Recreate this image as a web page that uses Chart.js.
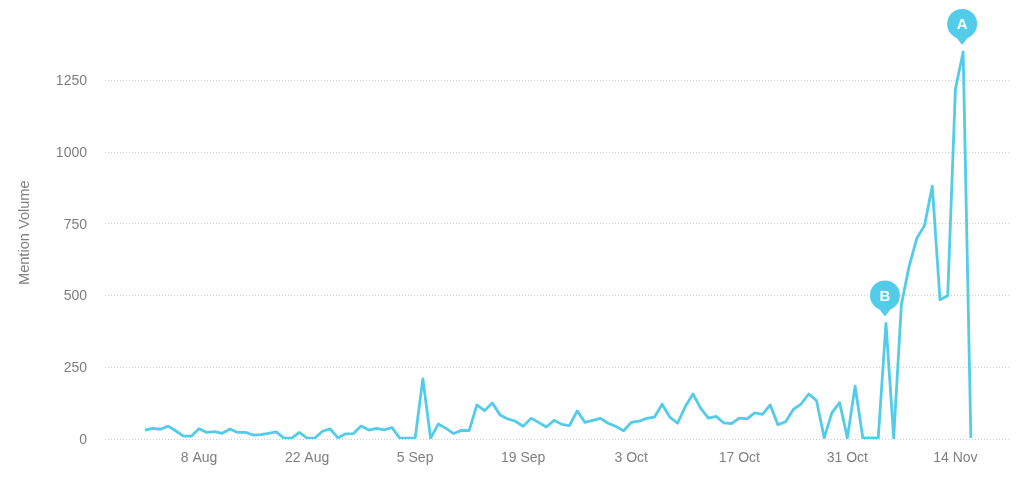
<!DOCTYPE html>
<html lang="en">
<head>
  <meta charset="UTF-8">
  <title>Mention Volume</title>
  <style>
    html, body { margin: 0; padding: 0; background: #fff; }
    #chart { display: block; }
  </style>
</head>
<body>

<canvas id="chart" width="1024" height="482"></canvas>

<script src="https://cdn.jsdelivr.net/npm/chart.js"></script>
<script>
  const dates = [
    '1 Aug','2 Aug','3 Aug','4 Aug','5 Aug','6 Aug','7 Aug','8 Aug','9 Aug','10 Aug','11 Aug','12 Aug','13 Aug','14 Aug','15 Aug','16 Aug',
    '17 Aug','18 Aug','19 Aug','20 Aug','21 Aug','22 Aug','23 Aug','24 Aug','25 Aug','26 Aug','27 Aug','28 Aug','29 Aug','30 Aug','31 Aug',
    '1 Sep','2 Sep','3 Sep','4 Sep','5 Sep','6 Sep','7 Sep','8 Sep','9 Sep','10 Sep','11 Sep','12 Sep','13 Sep','14 Sep','15 Sep',
    '16 Sep','17 Sep','18 Sep','19 Sep','20 Sep','21 Sep','22 Sep','23 Sep','24 Sep','25 Sep','26 Sep','27 Sep','28 Sep','29 Sep','30 Sep',
    '1 Oct','2 Oct','3 Oct','4 Oct','5 Oct','6 Oct','7 Oct','8 Oct','9 Oct','10 Oct','11 Oct','12 Oct','13 Oct','14 Oct','15 Oct','16 Oct',
    '17 Oct','18 Oct','19 Oct','20 Oct','21 Oct','22 Oct','23 Oct','24 Oct','25 Oct','26 Oct','27 Oct','28 Oct','29 Oct','30 Oct','31 Oct',
    '1 Nov','2 Nov','3 Nov','4 Nov','5 Nov','6 Nov','7 Nov','8 Nov','9 Nov','10 Nov','11 Nov','12 Nov','13 Nov','14 Nov','15 Nov','16 Nov'
  ];
  const mentions = [
    31, 37, 34, 45, 28, 10, 10, 36, 23, 26, 20, 35, 23, 23, 14, 15,
    20, 25, 3, 3, 23, 3, 3, 27, 35, 4, 18, 19, 45, 31, 37,
    32, 40, 3, 3, 3, 210, 3, 52, 37, 19, 30, 29, 119, 99, 126,
    84, 70, 62, 44, 72, 58, 42, 65, 51, 47, 98, 58, 65, 72, 55,
    44, 29, 58, 62, 72, 76, 121, 76, 55, 113, 157, 107, 73, 79, 56, 54,
    73, 70, 91, 86, 119, 50, 60, 103, 122, 157, 134, 4, 92, 127, 4,
    184, 4, 4, 4, 403, 4, 469, 602, 700, 745, 882, 486, 500, 1221, 1350, 4
  ];
  const xTickLabels = ['8 Aug', '22 Aug', '5 Sep', '19 Sep', '3 Oct', '17 Oct', '31 Oct', '14 Nov'];
  const yTicks = [0, 250, 500, 750, 1000, 1250];
  const yMax = 1439;
  const pins = [
    { date: '15 Nov', letter: 'A' },
    { date: '5 Nov', letter: 'B' }
  ];

  const lineColor = '#52cce8';
  const textColor = '#808080';
  const chartFont = '"Liberation Sans", Arial, sans-serif';

  // pins sit just above the point they mark
  const pinPlugin = {
    id: 'pins',
    afterDatasetsDraw(chart) {
      const c = chart.ctx;
      pins.forEach(p => {
        const i = dates.indexOf(p.date);
        const px = chart.scales.x.getPixelForValue(i) - 1;
        const py = chart.scales.y.getPixelForValue(mentions[i]);
        const tip = py - 7;
        const cy = tip - 21;
        const r = 15;
        c.save();
        c.fillStyle = lineColor;
        c.beginPath();
        c.arc(px, cy, r, 0, Math.PI * 2);
        c.fill();
        c.beginPath();
        c.moveTo(px - 7, cy + r - 3);
        c.lineTo(px, tip);
        c.lineTo(px + 7, cy + r - 3);
        c.closePath();
        c.fill();
        c.fillStyle = '#ffffff';
        c.font = 'bold 15px ' + chartFont;
        c.textAlign = 'center';
        c.textBaseline = 'middle';
        c.fillText(p.letter, px, cy + 1);
        c.restore();
      });
    }
  };

  new Chart(document.getElementById('chart').getContext('2d'), {
    type: 'line',
    data: {
      datasets: [{
        label: 'Mention Volume',
        data: mentions.map((v, i) => ({ x: i, y: v })),
        borderColor: lineColor,
        borderWidth: 2.8,
        borderJoinStyle: 'round',
        fill: false,
        tension: 0,
        pointRadius: 0
      }]
    },
    options: {
      responsive: false,
      animation: false,
      layout: { padding: { top: 14.9, right: 13 } },
      plugins: { legend: { display: false }, tooltip: { enabled: false } },
      scales: {
        x: {
          type: 'linear',
          min: -5.18,
          max: 112.2,
          afterFit(scale) { scale.height = 43; },
          afterBuildTicks(scale) {
            scale.ticks = xTickLabels.map(t => ({ value: dates.indexOf(t) }));
          },
          grid: { display: false },
          border: { display: false },
          ticks: {
            autoSkip: false,
            maxRotation: 0,
            padding: 3,
            color: textColor,
            font: { family: chartFont, size: 14 },
            callback: v => dates[v]
          }
        },
        y: {
          min: 0,
          max: yMax,
          afterFit(scale) { scale.width = 105; },
          afterBuildTicks(scale) {
            scale.ticks = yTicks.map(v => ({ value: v }));
          },
          grid: {
            color: '#cccccc',
            lineWidth: 1,
            drawTicks: false
          },
          border: { display: false, dash: [1, 2] },
          title: {
            display: true,
            text: 'Mention Volume',
            color: textColor,
            font: { family: chartFont, size: 14.6 },
            padding: { top: 16, bottom: 0 }
          },
          ticks: {
            padding: 18,
            labelOffset: 1,
            color: textColor,
            font: { family: chartFont, size: 14 },
            callback: v => String(v)
          }
        }
      }
    },
    plugins: [pinPlugin]
  });
</script>

</body>
</html>
